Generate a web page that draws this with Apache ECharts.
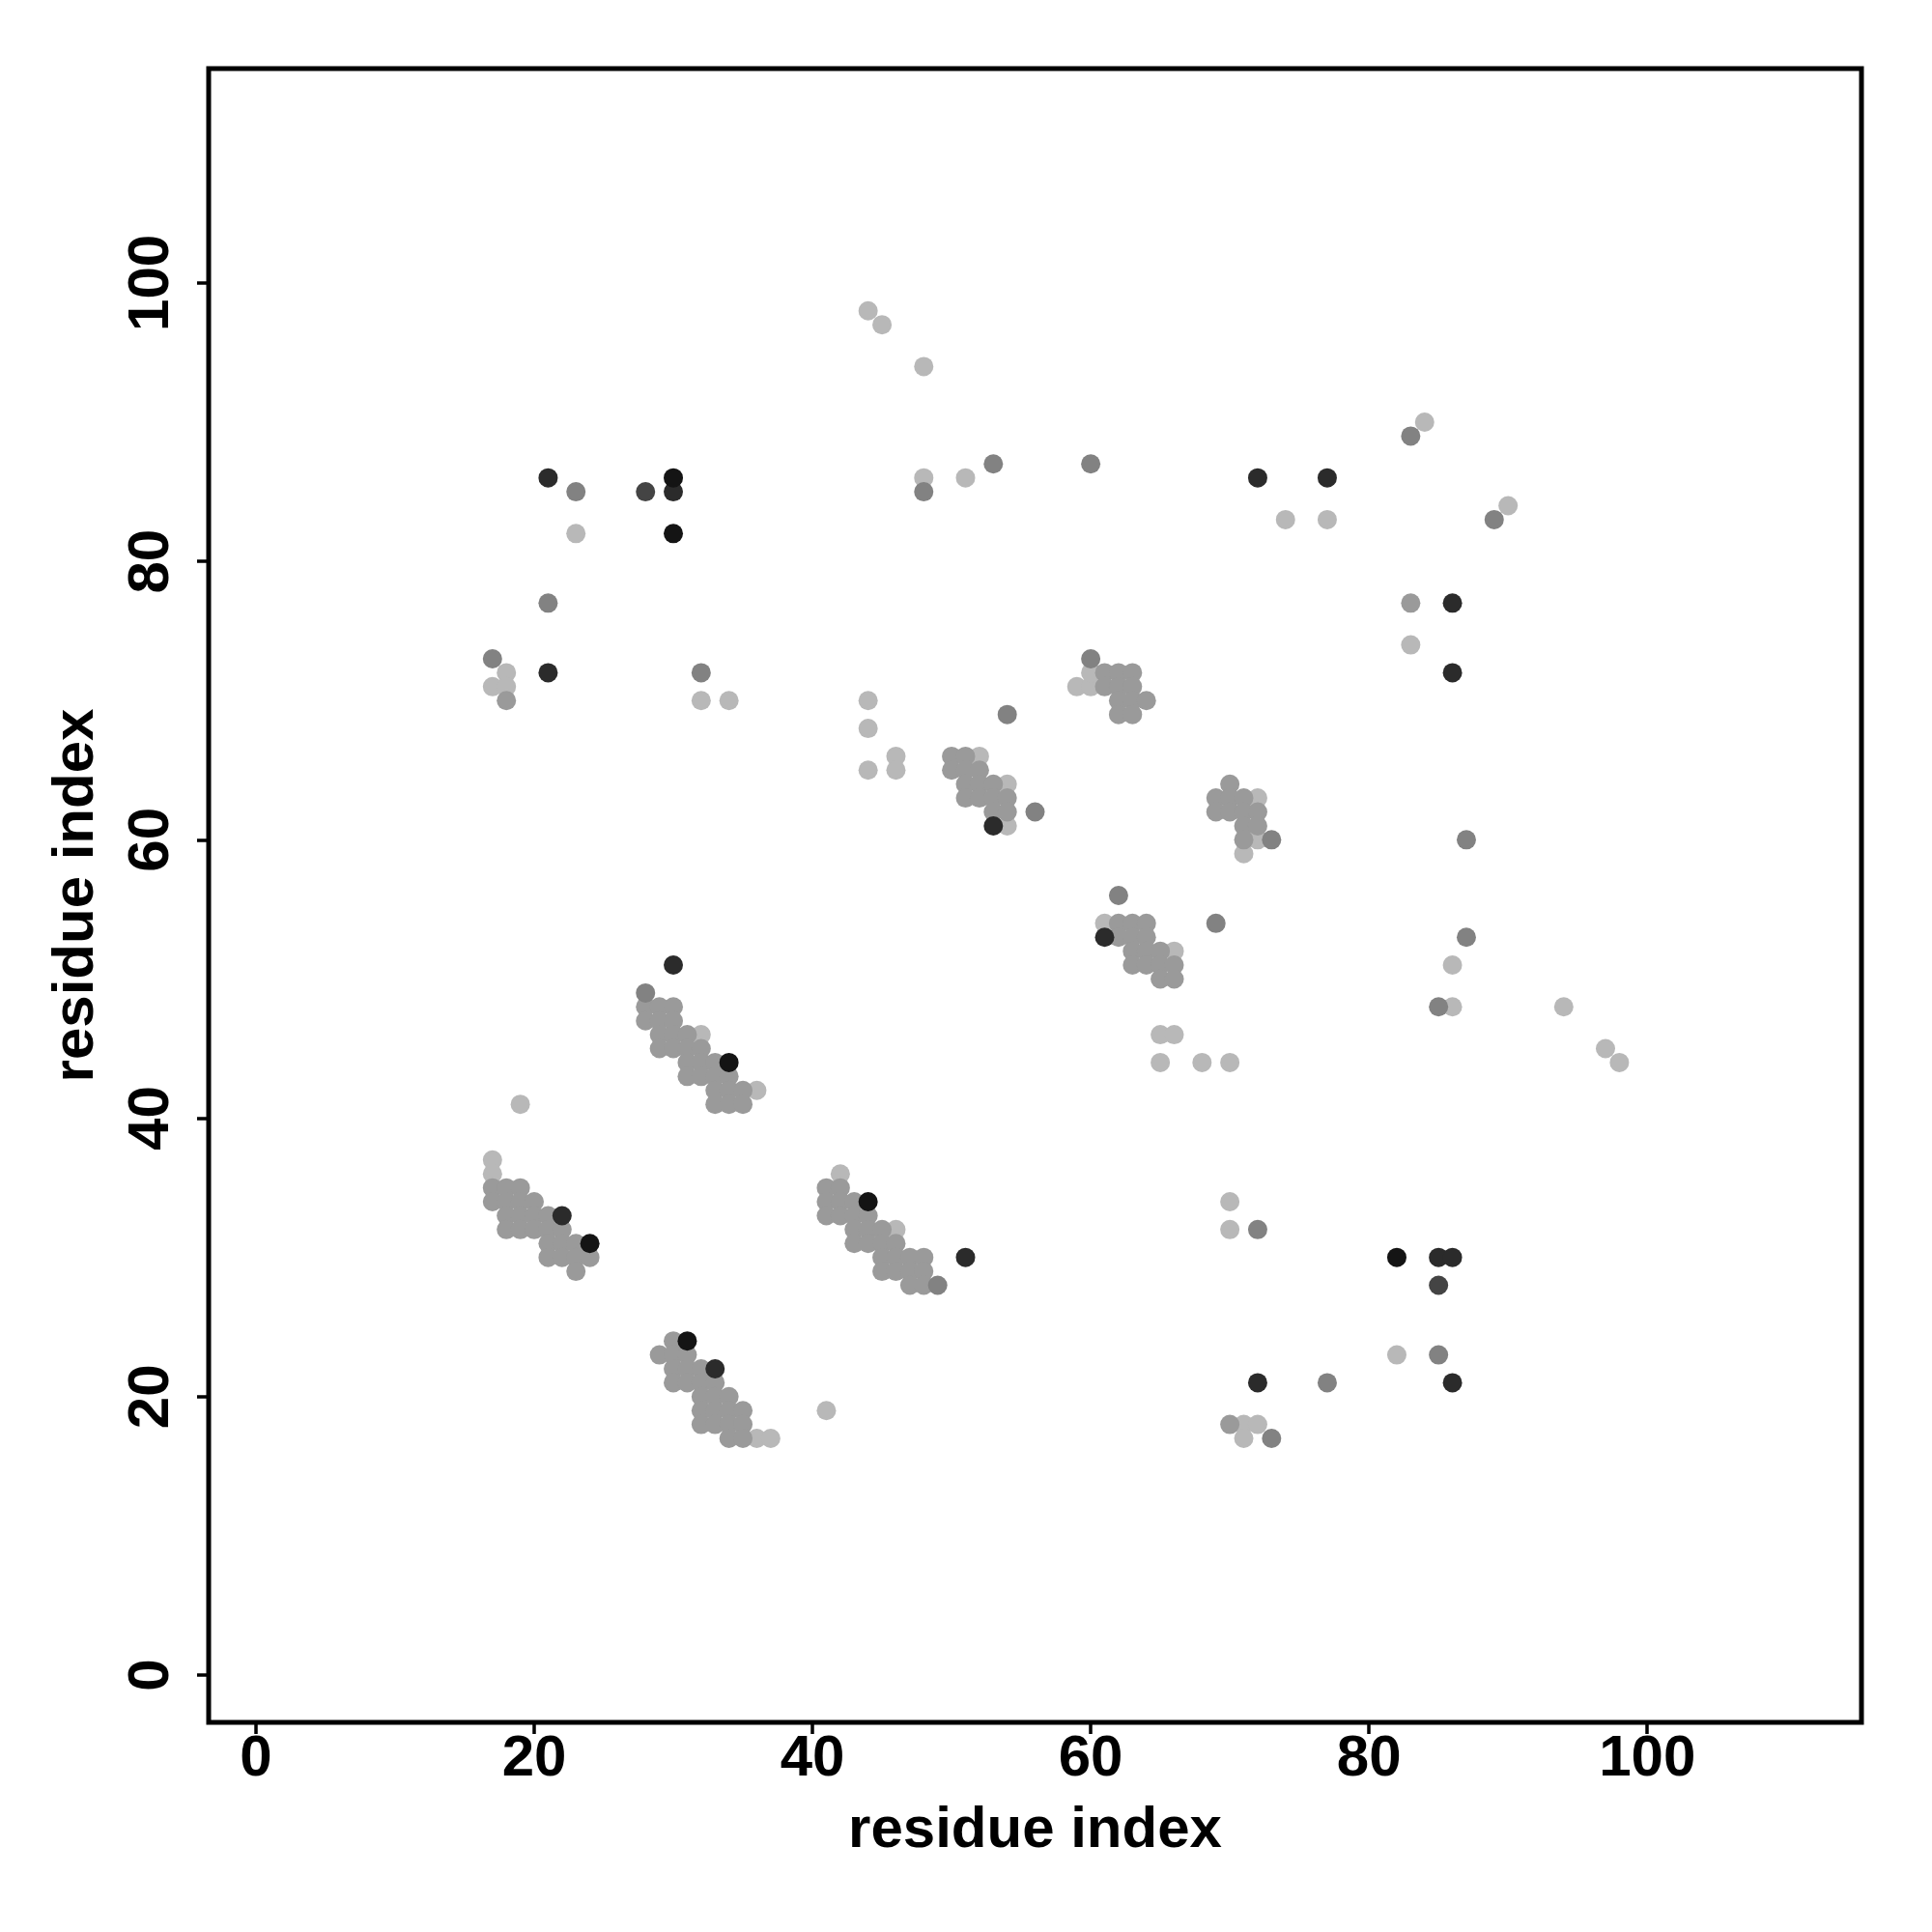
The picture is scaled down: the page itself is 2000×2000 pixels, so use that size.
<!DOCTYPE html>
<html>
<head>
<meta charset="utf-8">
<script src="https://cdn.jsdelivr.net/npm/echarts@6/dist/echarts.min.js"></script>
<style>html,body{margin:0;padding:0;background:#fff}#c{width:2000px;height:2000px}</style>
</head>
<body>
<div id="c"></div>
<script>
// Residue contact points, grouped by shade
const blackPts = [[30,86],[30,82],[34,44],[44,34],[31,24],[82,30],[24,31]];
const darkPts = [[21,86],[30,85],[22,33],[33,22],[51,30],[72,86],[77,86],[86,77],[86,72],[85,30],[86,30],[86,21],[72,21],[21,72],[30,51],[53,61],[61,53]];
const dark2Pts = [[28,85],[85,28]];
const greyPts = [[23,85],[21,77],[17,73],[32,72],[53,87],[48,85],[60,87],[83,89],[89,83],[73,60],[87,60],[87,53],[85,48],[85,23],[77,21],[73,17],[72,32],[62,56],[69,54],[56,62],[54,69],[60,73],[28,49],[49,28]];
const mediumPts = [
  [28,48],[29,48],[30,48],[28,47],[29,47],[30,47],[29,46],[30,46],[31,46],[29,45],[30,45],[31,45],[32,45],[31,44],[32,44],[33,44],[31,43],[32,43],[33,43],[34,43],[33,42],[34,42],[35,42],[33,41],[34,41],[35,41],
  [17,35],[18,35],[19,35],[17,34],[18,34],[19,34],[20,34],[18,33],[19,33],[20,33],[21,33],[18,32],[19,32],[20,32],[21,32],[22,32],[21,31],[22,31],[23,31],[21,30],[22,30],[23,30],[24,30],[23,29],
  [30,24],[29,23],[30,23],[31,23],[30,22],[31,22],[32,22],[30,21],[31,21],[32,21],[33,21],[32,20],[33,20],[34,20],[32,19],[33,19],[34,19],[35,19],[32,18],[33,18],[34,18],[35,18],[34,17],[35,17],
  [41,35],[42,35],[41,34],[42,34],[43,34],[41,33],[42,33],[43,33],[44,33],[43,32],[44,32],[45,32],[43,31],[44,31],[45,31],[46,31],[45,30],[46,30],[47,30],[48,30],[45,29],[46,29],[47,29],[48,29],[47,28],[48,28],
  [50,66],[51,66],[50,65],[51,65],[52,65],[51,64],[52,64],[53,64],[51,63],[52,63],[53,63],[54,63],[53,62],[54,62],
  [70,64],[69,63],[70,63],[71,63],[69,62],[70,62],[71,62],[72,62],[71,61],[72,61],[71,60],
  [61,72],[62,72],[63,72],[61,71],[62,71],[63,71],[62,70],[63,70],[64,70],[62,69],[63,69],
  [62,54],[63,54],[64,54],[62,53],[63,53],[64,53],[63,52],[64,52],[65,52],[63,51],[64,51],[65,51],[66,51],[65,50],[66,50],
  [70,18],[83,77],[18,70]
];
const lightPts = [[44,98],[45,97],[48,94],[48,86],[51,86],[23,82],[18,72],[17,71],[18,71],[32,70],[34,70],[44,70],[44,68],[44,65],[46,66],[46,65],[84,90],[90,84],[74,83],[77,83],[83,74],[86,51],[86,48],[94,48],[97,45],[98,44],[70,34],[70,32],[82,23],[71,18],[71,17],[72,18],[41,19],[19,41],[65,46],[66,46],[65,44],[68,44],[70,44],
  [32,46],[36,42],[17,37],[17,36],[36,17],[37,17],[42,36],[46,32],[52,66],[54,64],[54,61],[59,71],[60,71],[60,72],[61,54],[66,52],[72,63],[72,60],[71,59]];
const tickVals = [0,20,40,60,80,100];

const FONT = '"Liberation Sans", Arial, Helvetica, sans-serif';
const chart = echarts.init(document.getElementById('c'), null, {renderer:'canvas'});
function mk(data, color){
  return {type:'scatter', data:data, symbol:'circle', symbolSize:20, itemStyle:{color:color, opacity:1}, silent:true, animation:false};
}
function axis(isY){
  return {
    type:'value', min:-3.4, max:115.4,
    axisLine:{show:false, onZero:false}, splitLine:{show:false},
    axisTick:{show:true, inside:false, length:12, customValues:tickVals, lineStyle:{color:'#000', width:3.5}},
    axisLabel:{show:true, customValues:tickVals, fontSize:60, fontWeight:'bold', color:'#000', fontFamily:FONT, margin: isY ? 29 : 8, rotate: isY ? 90 : 0},
    name:'residue index', nameLocation:'middle', nameGap: isY ? 107 : 82,
    nameRotate: isY ? 90 : 0,
    nameTextStyle:{fontSize:60, fontWeight:'bold', color:'#000', fontFamily:FONT}
  };
}
chart.setOption({
  backgroundColor:'#fff',
  animation:false,
  grid:{left:216, right:73, top:71, bottom:217, show:true, borderColor:'#000', borderWidth:5, backgroundColor:'transparent'},
  xAxis: axis(false),
  yAxis: axis(true),
  series:[
    mk(lightPts,'#b8b8b8'),
    mk(mediumPts,'#9a9a9a'),
    mk(greyPts,'#828282'),
    mk(dark2Pts,'#444444'),
    mk(darkPts,'#2b2b2b'),
    mk(blackPts,'#141414')
  ]
});
</script>
</body>
</html>
